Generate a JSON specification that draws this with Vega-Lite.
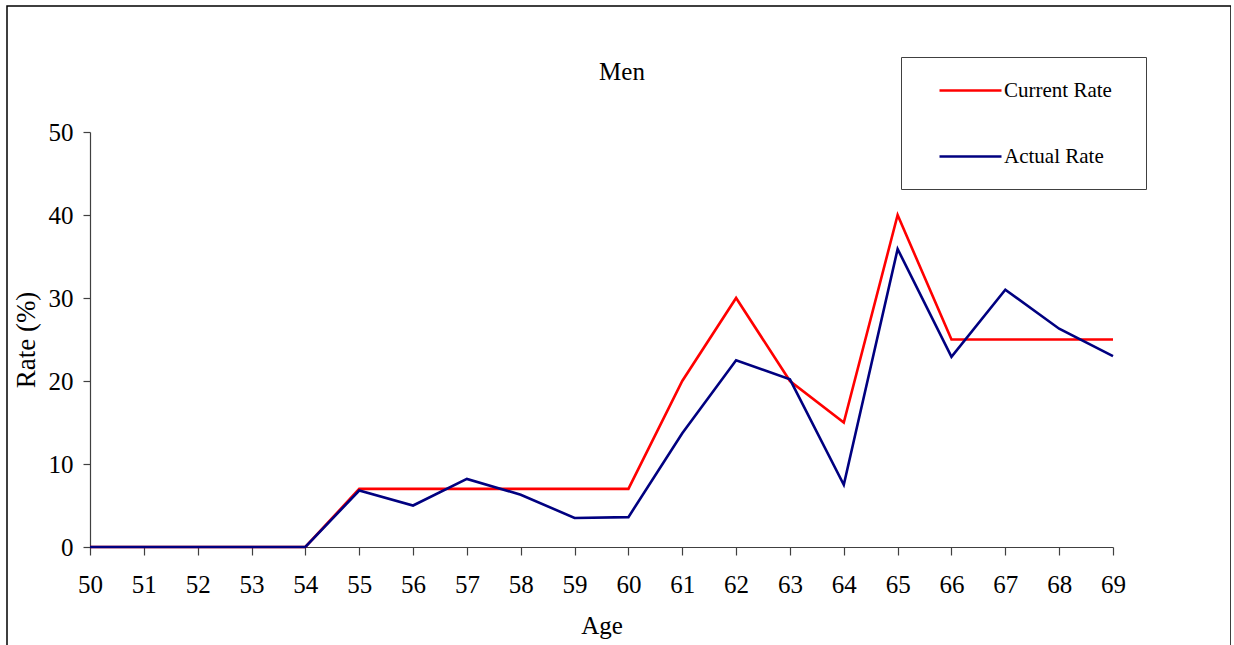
{
  "$schema": "https://vega.github.io/schema/vega-lite/v6.json",
  "autosize": "none",
  "width": 1224,
  "height": 660,
  "padding": {"left": 7, "top": 6, "right": 0, "bottom": 0},
  "background": "white",
  "title": {
    "text": "Men",
    "orient": "top",
    "anchor": "middle",
    "frame": "group",
    "baseline": "alphabetic",
    "offset": -99,
    "dx": 3,
    "font": "Liberation Serif",
    "fontSize": 25,
    "fontWeight": "normal",
    "color": "black"
  },
  "config": {
    "view": {"stroke": "black", "strokeWidth": 1.5},
    "axis": {
      "labelFont": "Liberation Serif",
      "labelFontSize": 25,
      "labelColor": "black",
      "titleFont": "Liberation Serif",
      "titleFontSize": 25,
      "titleFontWeight": "normal",
      "titleColor": "black",
      "grid": false,
      "domainColor": "#404040",
      "tickColor": "#404040",
      "domainWidth": 1.2,
      "tickWidth": 1.2
    },
    "legend": {
      "labelFont": "Liberation Serif",
      "labelFontSize": 21,
      "labelColor": "black"
    }
  },
  "data": {
    "values": [
      {"age": 50, "series": "Current Rate", "rate": 0},
      {"age": 51, "series": "Current Rate", "rate": 0},
      {"age": 52, "series": "Current Rate", "rate": 0},
      {"age": 53, "series": "Current Rate", "rate": 0},
      {"age": 54, "series": "Current Rate", "rate": 0},
      {"age": 55, "series": "Current Rate", "rate": 7},
      {"age": 56, "series": "Current Rate", "rate": 7},
      {"age": 57, "series": "Current Rate", "rate": 7},
      {"age": 58, "series": "Current Rate", "rate": 7},
      {"age": 59, "series": "Current Rate", "rate": 7},
      {"age": 60, "series": "Current Rate", "rate": 7},
      {"age": 61, "series": "Current Rate", "rate": 20},
      {"age": 62, "series": "Current Rate", "rate": 30},
      {"age": 63, "series": "Current Rate", "rate": 20},
      {"age": 64, "series": "Current Rate", "rate": 15},
      {"age": 65, "series": "Current Rate", "rate": 40},
      {"age": 66, "series": "Current Rate", "rate": 25},
      {"age": 67, "series": "Current Rate", "rate": 25},
      {"age": 68, "series": "Current Rate", "rate": 25},
      {"age": 69, "series": "Current Rate", "rate": 25},
      {"age": 50, "series": "Actual Rate", "rate": 0},
      {"age": 51, "series": "Actual Rate", "rate": 0},
      {"age": 52, "series": "Actual Rate", "rate": 0},
      {"age": 53, "series": "Actual Rate", "rate": 0},
      {"age": 54, "series": "Actual Rate", "rate": 0},
      {"age": 55, "series": "Actual Rate", "rate": 6.8},
      {"age": 56, "series": "Actual Rate", "rate": 5.0},
      {"age": 57, "series": "Actual Rate", "rate": 8.2},
      {"age": 58, "series": "Actual Rate", "rate": 6.3},
      {"age": 59, "series": "Actual Rate", "rate": 3.5},
      {"age": 60, "series": "Actual Rate", "rate": 3.6},
      {"age": 61, "series": "Actual Rate", "rate": 13.7},
      {"age": 62, "series": "Actual Rate", "rate": 22.5},
      {"age": 63, "series": "Actual Rate", "rate": 20.2},
      {"age": 64, "series": "Actual Rate", "rate": 7.5},
      {"age": 65, "series": "Actual Rate", "rate": 35.9},
      {"age": 66, "series": "Actual Rate", "rate": 22.9},
      {"age": 67, "series": "Actual Rate", "rate": 31.0},
      {"age": 68, "series": "Actual Rate", "rate": 26.3},
      {"age": 69, "series": "Actual Rate", "rate": 23.0}
    ]
  },
  "mark": {"type": "line", "strokeWidth": 2.6},
  "encoding": {
    "x": {
      "field": "age",
      "type": "quantitative",
      "title": "Age",
      "scale": {"domain": [50, 69], "range": [83, 1106], "nice": false, "zero": false},
      "axis": {
        "values": [50, 51, 52, 53, 54, 55, 56, 57, 58, 59, 60, 61, 62, 63, 64, 65, 66, 67, 68, 69],
        "format": "d",
        "offset": -119,
        "tickSize": 8,
        "labelPadding": 17,
        "titlePadding": 16,
        "labelFlush": false,
        "labelOverlap": false
      }
    },
    "y": {
      "field": "rate",
      "type": "quantitative",
      "title": "Rate (%)",
      "scale": {"domain": [0, 50], "range": [541, 126], "nice": false},
      "axis": {
        "values": [0, 10, 20, 30, 40, 50],
        "offset": -83,
        "tickSize": 7,
        "labelPadding": 10,
        "titlePadding": 8,
        "titleFontSize": 27
      }
    },
    "color": {
      "field": "series",
      "type": "nominal",
      "scale": {"domain": ["Current Rate", "Actual Rate"], "range": ["#FF0000", "#000080"]},
      "legend": {
        "title": " ",
        "titleOrient": "right",
        "titleFontSize": 6,
        "titlePadding": 12,
        "orient": "none",
        "legendX": 894,
        "legendY": 51,
        "direction": "vertical",
        "strokeColor": "#404040",
        "fillColor": "white",
        "padding": 22,
        "symbolOffset": 36,
        "symbolType": "M-3.1,0H3.1",
        "symbolSize": 400,
        "symbolStrokeWidth": 2.6,
        "labelOffset": 22,
        "rowPadding": 44
      }
    }
  }
}
